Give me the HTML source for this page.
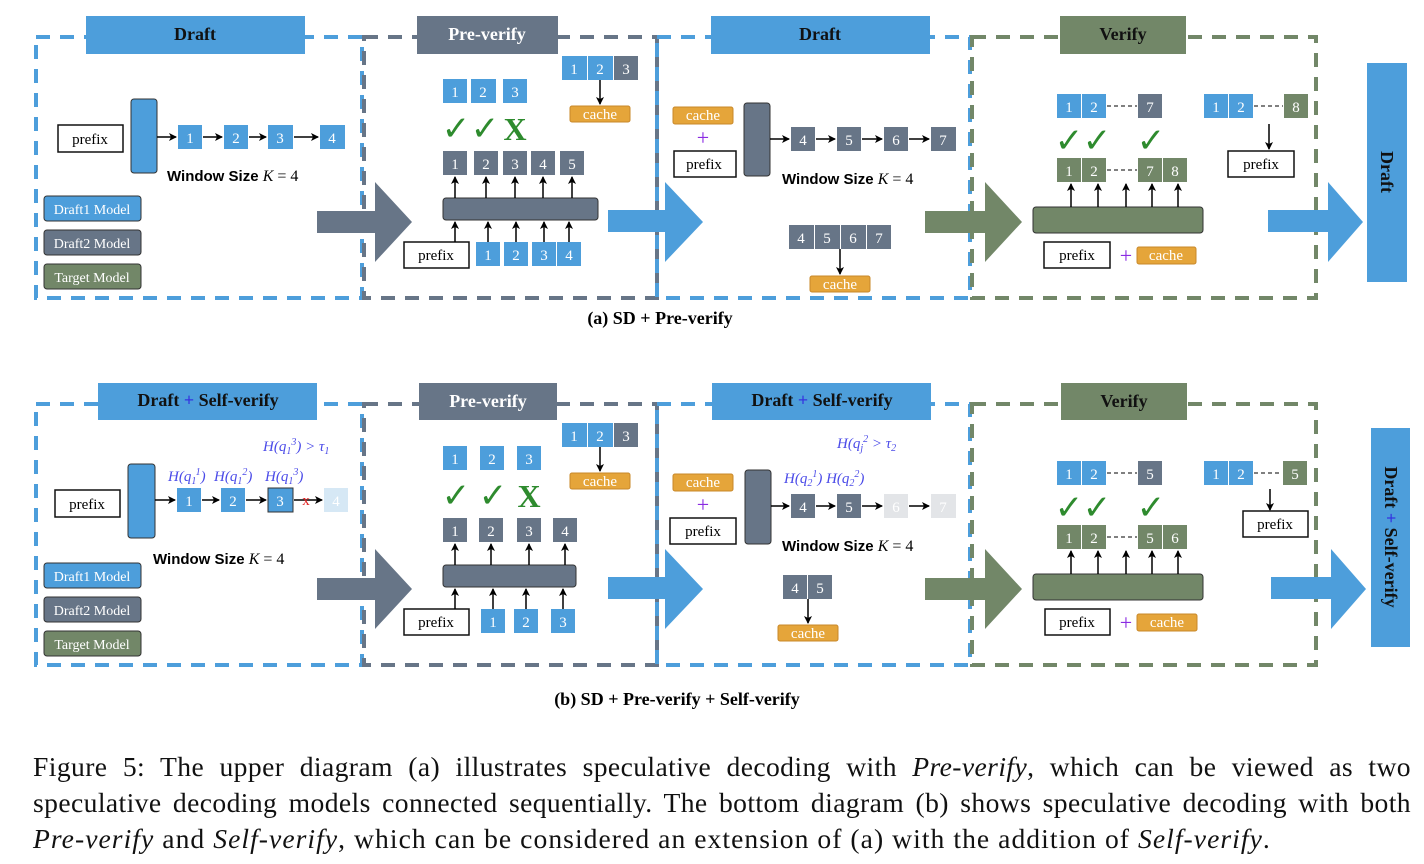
<!DOCTYPE html><html><head><meta charset="utf-8"><style>
body{margin:0;background:#fff;width:1424px;height:864px;overflow:hidden}
svg{position:absolute;left:0;top:0}
.cap{position:absolute;left:33px;width:1378px;font-family:"Liberation Serif",serif;font-size:27.6px;line-height:36px;color:#111;text-align:justify;text-align-last:justify;white-space:nowrap;letter-spacing:0.4px}
</style></head><body>
<svg width="1424" height="864" font-family="Liberation Serif, serif">
<defs><marker id="a" markerWidth="8" markerHeight="8" refX="7" refY="4" orient="auto" markerUnits="userSpaceOnUse"><path d="M0,0 L8,4 L0,8 L2,4z" fill="#000"/></marker></defs>
<style>
.b{fill:#4d9edb}.g{fill:#677587}.gr{fill:#728768}.o{fill:#e5a53a;stroke:#c8882a}.t{fill:#fff;font-size:15px;text-anchor:middle}
.ln{stroke:#000;stroke-width:1.5;marker-end:url(#a)}
.h{fill:#111;font-size:18px;font-weight:bold;text-anchor:middle}
.hw{fill:#fff;font-size:18px;font-weight:bold;text-anchor:middle}
.pf{fill:#fff;stroke:#111;stroke-width:1.5}.pt{font-size:15px;text-anchor:middle}
.ck{fill:#2e8b2e;font-size:34px;font-weight:bold;text-anchor:middle;font-family:"DejaVu Sans",sans-serif}
.ws{font-family:"Liberation Sans",sans-serif;font-size:15px;font-weight:bold}
.mth{font-style:italic;font-size:16px}
.pu{fill:#8a2be2;font-size:22px;text-anchor:middle}
.hq{fill:#4a4ae8;font-style:italic;font-size:15px}
</style>

<!-- ========== (a) ========== -->
<g fill="none" stroke-width="4" stroke-dasharray="14 10">
<rect x="36" y="37" width="326" height="261" stroke="#4d9edb"/>
<rect x="364" y="37" width="293" height="261" stroke="#677587"/>
<rect x="657" y="37" width="313" height="261" stroke="#4d9edb"/>
<rect x="972" y="37" width="344" height="261" stroke="#728768"/>
</g>
<rect class="b" x="86" y="16" width="219" height="38"/><text class="h" x="195" y="40">Draft</text>
<rect class="g" x="417" y="16" width="141" height="38"/><text class="hw" x="487" y="40">Pre-verify</text>
<rect class="b" x="711" y="16" width="219" height="38"/><text class="h" x="820" y="40">Draft</text>
<rect class="gr" x="1060" y="16" width="126" height="38"/><text class="h" x="1123" y="40">Verify</text>
<rect class="b" x="1367" y="63" width="40" height="219"/><text class="h" transform="translate(1381,172) rotate(90)">Draft</text>

<rect class="pf" x="58" y="125" width="65" height="27"/><text class="pt" x="90" y="144">prefix</text>
<rect class="b" x="131" y="99" width="26" height="74" rx="3" stroke="#333"/>
<g><rect class="b" x="178" y="125" width="24" height="24"/><text class="t" x="190" y="143">1</text>
<rect class="b" x="224" y="125" width="24" height="24"/><text class="t" x="236" y="143">2</text>
<rect class="b" x="268" y="125" width="25" height="24"/><text class="t" x="280" y="143">3</text>
<rect class="b" x="320" y="125" width="25" height="24"/><text class="t" x="332" y="143">4</text></g>
<line class="ln" x1="157" y1="137" x2="176" y2="137"/><line class="ln" x1="203" y1="137" x2="222" y2="137"/><line class="ln" x1="249" y1="137" x2="266" y2="137"/><line class="ln" x1="294" y1="137" x2="318" y2="137"/>
<text class="ws" x="167" y="181">Window Size <tspan class="mth" font-family="Liberation Serif,serif" font-weight="normal">K</tspan><tspan font-family="Liberation Serif,serif" font-weight="normal" font-size="16"> = 4</tspan></text>
<rect class="b" x="44" y="196" width="97" height="25" rx="3" stroke="#333"/><text x="92" y="214" fill="#fff" font-size="14" text-anchor="middle">Draft1 Model</text>
<rect class="g" x="44" y="230" width="97" height="25" rx="3" stroke="#333"/><text x="92" y="248" fill="#fff" font-size="14" text-anchor="middle">Draft2 Model</text>
<rect class="gr" x="44" y="264" width="97" height="25" rx="3" stroke="#333"/><text x="92" y="282" fill="#fff" font-size="14" text-anchor="middle">Target Model</text>
<path class="g" d="M317,211 H375 V182 L412,222 L375,262 V233 H317z"/>

<rect class="b" x="443" y="79" width="24" height="24"/><text class="t" x="455" y="97">1</text>
<rect class="b" x="471" y="79" width="25" height="24"/><text class="t" x="483" y="97">2</text>
<rect class="b" x="503" y="79" width="24" height="24"/><text class="t" x="515" y="97">3</text>
<text class="ck" x="456" y="140">✓</text><text class="ck" x="485" y="140">✓</text><text x="515" y="140" fill="#2e8b2e" font-size="32" font-weight="bold" text-anchor="middle">X</text>
<rect class="g" x="443" y="151" width="24" height="24"/><text class="t" x="455" y="169">1</text>
<rect class="g" x="474" y="151" width="24" height="24"/><text class="t" x="486" y="169">2</text>
<rect class="g" x="503" y="151" width="24" height="24"/><text class="t" x="515" y="169">3</text>
<rect class="g" x="531" y="151" width="24" height="24"/><text class="t" x="543" y="169">4</text>
<rect class="g" x="560" y="151" width="24" height="24"/><text class="t" x="572" y="169">5</text>
<rect class="g" x="443" y="198" width="155" height="22" rx="3" stroke="#333"/>
<line class="ln" x1="455" y1="198" x2="455" y2="177"/><line class="ln" x1="486" y1="198" x2="486" y2="177"/><line class="ln" x1="515" y1="198" x2="515" y2="177"/><line class="ln" x1="543" y1="198" x2="543" y2="177"/><line class="ln" x1="572" y1="198" x2="572" y2="177"/>
<rect class="pf" x="404" y="242" width="65" height="26"/><text class="pt" x="436" y="260">prefix</text>
<rect class="b" x="476" y="242" width="24" height="24"/><text class="t" x="488" y="260">1</text>
<rect class="b" x="504" y="242" width="24" height="24"/><text class="t" x="516" y="260">2</text>
<rect class="b" x="532" y="242" width="24" height="24"/><text class="t" x="544" y="260">3</text>
<rect class="b" x="557" y="242" width="24" height="24"/><text class="t" x="569" y="260">4</text>
<line class="ln" x1="455" y1="242" x2="455" y2="222"/><line class="ln" x1="488" y1="242" x2="488" y2="222"/><line class="ln" x1="516" y1="242" x2="516" y2="222"/><line class="ln" x1="544" y1="242" x2="544" y2="222"/><line class="ln" x1="569" y1="242" x2="569" y2="222"/>
<rect class="b" x="562" y="56" width="25" height="24"/><text class="t" x="574" y="74">1</text>
<rect class="b" x="588" y="56" width="25" height="24"/><text class="t" x="600" y="74">2</text>
<rect class="g" x="614" y="56" width="24" height="24"/><text class="t" x="626" y="74">3</text>
<line class="ln" x1="600" y1="80" x2="600" y2="104"/>
<rect class="o" x="570" y="106" width="60" height="16" rx="2"/><text class="t" x="600" y="119" font-size="14">cache</text>
<path class="b" d="M608,210 H665 V182 L703,222 L665,262 V232 H608z"/>

<rect class="o" x="673" y="107" width="60" height="17" rx="2"/><text class="t" x="703" y="120" font-size="14">cache</text>
<text class="pu" x="703" y="145">+</text>
<rect class="pf" x="674" y="151" width="62" height="26"/><text class="pt" x="704" y="169">prefix</text>
<rect class="g" x="744" y="103" width="26" height="73" rx="3" stroke="#333"/>
<rect class="g" x="791" y="127" width="24" height="24"/><text class="t" x="803" y="145">4</text>
<rect class="g" x="837" y="127" width="24" height="24"/><text class="t" x="849" y="145">5</text>
<rect class="g" x="884" y="127" width="24" height="24"/><text class="t" x="896" y="145">6</text>
<rect class="g" x="931" y="127" width="25" height="24"/><text class="t" x="943" y="145">7</text>
<line class="ln" x1="770" y1="139" x2="789" y2="139"/><line class="ln" x1="816" y1="139" x2="835" y2="139"/><line class="ln" x1="862" y1="139" x2="882" y2="139"/><line class="ln" x1="909" y1="139" x2="929" y2="139"/>
<text class="ws" x="782" y="184">Window Size <tspan class="mth" font-family="Liberation Serif,serif" font-weight="normal">K</tspan><tspan font-family="Liberation Serif,serif" font-weight="normal" font-size="16"> = 4</tspan></text>
<rect class="g" x="789" y="225" width="25" height="24"/><text class="t" x="801" y="243">4</text>
<rect class="g" x="815" y="225" width="25" height="24"/><text class="t" x="827" y="243">5</text>
<rect class="g" x="841" y="225" width="25" height="24"/><text class="t" x="853" y="243">6</text>
<rect class="g" x="867" y="225" width="24" height="24"/><text class="t" x="879" y="243">7</text>
<line class="ln" x1="840" y1="249" x2="840" y2="274"/>
<rect class="o" x="810" y="276" width="60" height="16" rx="2"/><text class="t" x="840" y="289" font-size="14">cache</text>
<path class="gr" d="M925,211 H985 V182 L1022,222 L985,262 V233 H925z"/>

<rect class="b" x="1057" y="94" width="24" height="24"/><text class="t" x="1069" y="112">1</text>
<rect class="b" x="1082" y="94" width="24" height="24"/><text class="t" x="1094" y="112">2</text>
<line x1="1107" y1="106" x2="1137" y2="106" stroke="#000" stroke-dasharray="4 3"/>
<rect class="g" x="1138" y="94" width="24" height="24"/><text class="t" x="1150" y="112">7</text>
<text class="ck" x="1069" y="152">✓</text><text class="ck" x="1097" y="152">✓</text><text class="ck" x="1151" y="152">✓</text>
<rect class="gr" x="1057" y="158" width="24" height="24"/><text class="t" x="1069" y="176">1</text>
<rect class="gr" x="1082" y="158" width="24" height="24"/><text class="t" x="1094" y="176">2</text>
<line x1="1107" y1="170" x2="1137" y2="170" stroke="#000" stroke-dasharray="4 3"/>
<rect class="gr" x="1138" y="158" width="24" height="24"/><text class="t" x="1150" y="176">7</text>
<rect class="gr" x="1163" y="158" width="24" height="24"/><text class="t" x="1175" y="176">8</text>
<rect class="gr" x="1033" y="207" width="170" height="26" rx="3" stroke="#333"/>
<line class="ln" x1="1071" y1="207" x2="1071" y2="184"/><line class="ln" x1="1098" y1="207" x2="1098" y2="184"/><line class="ln" x1="1126" y1="207" x2="1126" y2="184"/><line class="ln" x1="1152" y1="207" x2="1152" y2="184"/><line class="ln" x1="1178" y1="207" x2="1178" y2="184"/>
<rect class="pf" x="1044" y="242" width="66" height="26"/><text class="pt" x="1077" y="260">prefix</text>
<text class="pu" x="1126" y="263">+</text>
<rect class="o" x="1137" y="247" width="59" height="17" rx="2"/><text class="t" x="1166" y="260" font-size="14">cache</text>
<rect class="b" x="1204" y="94" width="24" height="24"/><text class="t" x="1216" y="112">1</text>
<rect class="b" x="1229" y="94" width="24" height="24"/><text class="t" x="1241" y="112">2</text>
<line x1="1254" y1="106" x2="1283" y2="106" stroke="#000" stroke-dasharray="4 3"/>
<rect class="gr" x="1284" y="94" width="24" height="24"/><text class="t" x="1296" y="112">8</text>
<line class="ln" x1="1269" y1="124" x2="1269" y2="149"/>
<rect class="pf" x="1228" y="151" width="66" height="26"/><text class="pt" x="1261" y="169">prefix</text>
<path class="b" d="M1268,210 H1328 V182 L1363,222 L1328,262 V232 H1268z"/>
<text x="660" y="324" font-size="18" font-weight="bold" text-anchor="middle">(a) SD + Pre-verify</text>

<!-- ========== (b) ========== -->
<g fill="none" stroke-width="4" stroke-dasharray="14 10">
<rect x="36" y="404" width="326" height="261" stroke="#4d9edb"/>
<rect x="364" y="404" width="293" height="261" stroke="#677587"/>
<rect x="657" y="404" width="313" height="261" stroke="#4d9edb"/>
<rect x="972" y="404" width="344" height="261" stroke="#728768"/>
</g>
<rect class="b" x="98" y="383" width="219" height="37"/><text class="h" x="208" y="406">Draft <tspan fill="#3535e0">+</tspan> Self-verify</text>
<rect class="g" x="419" y="383" width="138" height="37"/><text class="hw" x="488" y="407">Pre-verify</text>
<rect class="b" x="712" y="383" width="219" height="37"/><text class="h" x="822" y="406">Draft <tspan fill="#3535e0">+</tspan> Self-verify</text>
<rect class="gr" x="1061" y="383" width="126" height="37"/><text class="h" x="1124" y="407">Verify</text>
<rect class="b" x="1371" y="428" width="39" height="219"/><text class="h" transform="translate(1385,537) rotate(90)">Draft <tspan fill="#3535e0">+</tspan> Self-verify</text>

<rect class="pf" x="55" y="490" width="65" height="27"/><text class="pt" x="87" y="509">prefix</text>
<rect class="b" x="128" y="464" width="27" height="74" rx="3" stroke="#333"/>
<rect class="b" x="177" y="488" width="24" height="24"/><text class="t" x="189" y="506">1</text>
<rect class="b" x="221" y="488" width="24" height="24"/><text class="t" x="233" y="506">2</text>
<rect class="b" x="268" y="488" width="25" height="24" stroke="#333"/><text class="t" x="280" y="506">3</text>
<rect x="324" y="488" width="24" height="24" fill="#d6e8f5"/><text class="t" x="336" y="506">4</text>
<line class="ln" x1="155" y1="500" x2="175" y2="500"/><line class="ln" x1="202" y1="500" x2="219" y2="500"/><line class="ln" x1="246" y1="500" x2="266" y2="500"/><line class="ln" x1="294" y1="500" x2="322" y2="500"/>
<text x="306" y="505" fill="#e02020" font-size="15" text-anchor="middle">x</text>
<text class="hq" x="168" y="481">H(q<tspan font-size="10" dy="3">1</tspan><tspan font-size="10" dy="-9">1</tspan><tspan dy="6">)</tspan></text>
<text class="hq" x="214" y="481">H(q<tspan font-size="10" dy="3">1</tspan><tspan font-size="10" dy="-9">2</tspan><tspan dy="6">)</tspan></text>
<text class="hq" x="265" y="481">H(q<tspan font-size="10" dy="3">1</tspan><tspan font-size="10" dy="-9">3</tspan><tspan dy="6">)</tspan></text>
<text class="hq" x="263" y="451">H(q<tspan font-size="10" dy="3">1</tspan><tspan font-size="10" dy="-9">3</tspan><tspan dy="6">) &gt; τ</tspan><tspan font-size="10" dy="3">1</tspan></text>
<text class="ws" x="153" y="564">Window Size <tspan class="mth" font-family="Liberation Serif,serif" font-weight="normal">K</tspan><tspan font-family="Liberation Serif,serif" font-weight="normal" font-size="16"> = 4</tspan></text>
<rect class="b" x="44" y="563" width="97" height="25" rx="3" stroke="#333"/><text x="92" y="581" fill="#fff" font-size="14" text-anchor="middle">Draft1 Model</text>
<rect class="g" x="44" y="597" width="97" height="25" rx="3" stroke="#333"/><text x="92" y="615" fill="#fff" font-size="14" text-anchor="middle">Draft2 Model</text>
<rect class="gr" x="44" y="631" width="97" height="25" rx="3" stroke="#333"/><text x="92" y="649" fill="#fff" font-size="14" text-anchor="middle">Target Model</text>
<path class="g" d="M317,578 H375 V549 L412,589 L375,629 V600 H317z"/>

<rect class="b" x="443" y="446" width="24" height="24"/><text class="t" x="455" y="464">1</text>
<rect class="b" x="480" y="446" width="24" height="24"/><text class="t" x="492" y="464">2</text>
<rect class="b" x="517" y="446" width="24" height="24"/><text class="t" x="529" y="464">3</text>
<text class="ck" x="456" y="507">✓</text><text class="ck" x="493" y="507">✓</text><text x="529" y="507" fill="#2e8b2e" font-size="32" font-weight="bold" text-anchor="middle">X</text>
<rect class="g" x="443" y="518" width="24" height="24"/><text class="t" x="455" y="536">1</text>
<rect class="g" x="479" y="518" width="24" height="24"/><text class="t" x="491" y="536">2</text>
<rect class="g" x="517" y="518" width="24" height="24"/><text class="t" x="529" y="536">3</text>
<rect class="g" x="553" y="518" width="24" height="24"/><text class="t" x="565" y="536">4</text>
<rect class="g" x="443" y="565" width="133" height="22" rx="3" stroke="#333"/>
<line class="ln" x1="455" y1="565" x2="455" y2="544"/><line class="ln" x1="491" y1="565" x2="491" y2="544"/><line class="ln" x1="529" y1="565" x2="529" y2="544"/><line class="ln" x1="565" y1="565" x2="565" y2="544"/>
<rect class="pf" x="404" y="609" width="65" height="26"/><text class="pt" x="436" y="627">prefix</text>
<rect class="b" x="481" y="609" width="24" height="24"/><text class="t" x="493" y="627">1</text>
<rect class="b" x="514" y="609" width="24" height="24"/><text class="t" x="526" y="627">2</text>
<rect class="b" x="551" y="609" width="24" height="24"/><text class="t" x="563" y="627">3</text>
<line class="ln" x1="455" y1="609" x2="455" y2="589"/><line class="ln" x1="493" y1="609" x2="493" y2="589"/><line class="ln" x1="526" y1="609" x2="526" y2="589"/><line class="ln" x1="563" y1="609" x2="563" y2="589"/>
<rect class="b" x="562" y="423" width="25" height="24"/><text class="t" x="574" y="441">1</text>
<rect class="b" x="588" y="423" width="25" height="24"/><text class="t" x="600" y="441">2</text>
<rect class="g" x="614" y="423" width="24" height="24"/><text class="t" x="626" y="441">3</text>
<line class="ln" x1="600" y1="447" x2="600" y2="471"/>
<rect class="o" x="570" y="473" width="60" height="16" rx="2"/><text class="t" x="600" y="486" font-size="14">cache</text>
<path class="b" d="M608,577 H665 V549 L703,589 L665,629 V599 H608z"/>

<rect class="o" x="673" y="474" width="60" height="17" rx="2"/><text class="t" x="703" y="487" font-size="14">cache</text>
<text class="pu" x="703" y="512">+</text>
<rect class="pf" x="670" y="518" width="66" height="26"/><text class="pt" x="703" y="536">prefix</text>
<rect class="g" x="745" y="470" width="26" height="74" rx="3" stroke="#333"/>
<rect class="g" x="791" y="494" width="24" height="24"/><text class="t" x="803" y="512">4</text>
<rect class="g" x="837" y="494" width="24" height="24"/><text class="t" x="849" y="512">5</text>
<rect x="884" y="494" width="24" height="24" fill="#e3e5e8"/><text class="t" x="896" y="512">6</text>
<rect x="931" y="494" width="25" height="24" fill="#e3e5e8"/><text class="t" x="943" y="512">7</text>
<line class="ln" x1="771" y1="506" x2="789" y2="506"/><line class="ln" x1="816" y1="506" x2="835" y2="506"/><line class="ln" x1="862" y1="506" x2="882" y2="506"/><line class="ln" x1="909" y1="506" x2="929" y2="506"/>
<text class="hq" x="784" y="483">H(q<tspan font-size="10" dy="3">2</tspan><tspan font-size="10" dy="-9">1</tspan><tspan dy="6">) H(q</tspan><tspan font-size="10" dy="3">2</tspan><tspan font-size="10" dy="-9">2</tspan><tspan dy="6">)</tspan></text>
<text class="hq" x="837" y="448">H(q<tspan font-size="10" dy="3">j</tspan><tspan font-size="10" dy="-9">2</tspan><tspan dy="6"> &gt; τ</tspan><tspan font-size="10" dy="3">2</tspan></text>
<text class="ws" x="782" y="551">Window Size <tspan class="mth" font-family="Liberation Serif,serif" font-weight="normal">K</tspan><tspan font-family="Liberation Serif,serif" font-weight="normal" font-size="16"> = 4</tspan></text>
<rect class="g" x="783" y="575" width="24" height="24"/><text class="t" x="795" y="593">4</text>
<rect class="g" x="808" y="575" width="24" height="24"/><text class="t" x="820" y="593">5</text>
<line class="ln" x1="808" y1="599" x2="808" y2="623"/>
<rect class="o" x="778" y="625" width="60" height="16" rx="2"/><text class="t" x="808" y="638" font-size="14">cache</text>
<path class="gr" d="M925,578 H985 V549 L1022,589 L985,629 V600 H925z"/>

<rect class="b" x="1057" y="461" width="24" height="24"/><text class="t" x="1069" y="479">1</text>
<rect class="b" x="1082" y="461" width="24" height="24"/><text class="t" x="1094" y="479">2</text>
<line x1="1107" y1="473" x2="1137" y2="473" stroke="#000" stroke-dasharray="4 3"/>
<rect class="g" x="1138" y="461" width="24" height="24"/><text class="t" x="1150" y="479">5</text>
<text class="ck" x="1069" y="519">✓</text><text class="ck" x="1097" y="519">✓</text><text class="ck" x="1151" y="519">✓</text>
<rect class="gr" x="1057" y="525" width="24" height="24"/><text class="t" x="1069" y="543">1</text>
<rect class="gr" x="1082" y="525" width="24" height="24"/><text class="t" x="1094" y="543">2</text>
<line x1="1107" y1="537" x2="1137" y2="537" stroke="#000" stroke-dasharray="4 3"/>
<rect class="gr" x="1138" y="525" width="24" height="24"/><text class="t" x="1150" y="543">5</text>
<rect class="gr" x="1163" y="525" width="24" height="24"/><text class="t" x="1175" y="543">6</text>
<rect class="gr" x="1033" y="574" width="170" height="26" rx="3" stroke="#333"/>
<line class="ln" x1="1071" y1="574" x2="1071" y2="551"/><line class="ln" x1="1098" y1="574" x2="1098" y2="551"/><line class="ln" x1="1126" y1="574" x2="1126" y2="551"/><line class="ln" x1="1152" y1="574" x2="1152" y2="551"/><line class="ln" x1="1178" y1="574" x2="1178" y2="551"/>
<rect class="pf" x="1045" y="609" width="65" height="26"/><text class="pt" x="1077" y="627">prefix</text>
<text class="pu" x="1126" y="630">+</text>
<rect class="o" x="1137" y="614" width="60" height="17" rx="2"/><text class="t" x="1167" y="627" font-size="14">cache</text>
<rect class="b" x="1204" y="461" width="24" height="24"/><text class="t" x="1216" y="479">1</text>
<rect class="b" x="1229" y="461" width="24" height="24"/><text class="t" x="1241" y="479">2</text>
<line x1="1254" y1="473" x2="1282" y2="473" stroke="#000" stroke-dasharray="4 3"/>
<rect class="gr" x="1283" y="461" width="24" height="24"/><text class="t" x="1295" y="479">5</text>
<line class="ln" x1="1270" y1="489" x2="1270" y2="510"/>
<rect class="pf" x="1243" y="511" width="65" height="26"/><text class="pt" x="1275" y="529">prefix</text>
<path class="b" d="M1271,577 H1331 V549 L1366,589 L1331,629 V599 H1271z"/>
<text x="677" y="705" font-size="18" font-weight="bold" text-anchor="middle">(b) SD + Pre-verify + Self-verify</text>
</svg>
<div class="cap" style="top:749px">Figure 5: The upper diagram (a) illustrates speculative decoding with <i>Pre-verify</i>, which can be viewed as two</div>
<div class="cap" style="top:785px">speculative decoding models connected sequentially. The bottom diagram (b) shows speculative decoding with both</div>
<div class="cap" style="top:821px;text-align-last:left;letter-spacing:1.05px"><i>Pre-verify</i> and <i>Self-verify</i>, which can be considered an extension of (a) with the addition of <i>Self-verify</i>.</div>
</body></html>
